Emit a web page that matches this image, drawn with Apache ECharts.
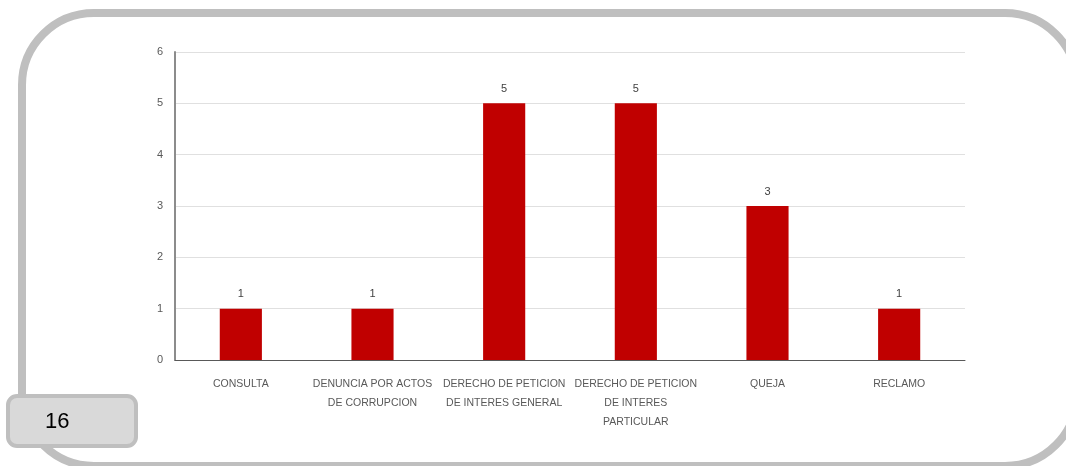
<!DOCTYPE html>
<html>
<head>
<meta charset="utf-8">
<script src="https://cdn.jsdelivr.net/npm/echarts@6/dist/echarts.min.js"></script>
<style>
html,body{margin:0;padding:0;background:#fff;}
#c{width:1066px;height:466px;}
</style>
</head>
<body>
<div id="c"></div>
<script>
const categories = ['CONSULTA','DENUNCIA POR ACTOS DE CORRUPCION','DERECHO DE PETICION DE INTERES GENERAL','DERECHO DE PETICION DE INTERES PARTICULAR','QUEJA','RECLAMO'];
const tickLabels = ['CONSULTA','DENUNCIA POR ACTOS\nDE CORRUPCION','DERECHO DE PETICION\nDE INTERES GENERAL','DERECHO DE PETICION\nDE INTERES\nPARTICULAR','QUEJA','RECLAMO'];
const values = [1,1,5,5,3,1];
const yTicks = [0,1,2,3,4,5,6];
const pageNumber = '16';

const chart = echarts.init(document.getElementById('c'));
const font = '"Liberation Sans Narrow", "Liberation Sans", sans-serif';
chart.setOption({
  animation:false,
  grid:{left:175,right:101,top:52,bottom:106},
  xAxis:{
    type:'category',
    data:categories,
    axisLine:{lineStyle:{color:'#595959',width:1}},
    axisTick:{show:false},
    axisLabel:{
      interval:0,margin:15,color:'#595959',fontSize:10.5,fontFamily:font,lineHeight:19,
      formatter:(v,i)=>tickLabels[i]
    }
  },
  yAxis:{
    type:'value',min:yTicks[0],max:yTicks[yTicks.length-1],interval:1,
    axisLine:{show:true,lineStyle:{color:'#8c8c8c',width:2}},
    axisTick:{show:false},
    splitLine:{lineStyle:{color:'#e0e0e0',width:1}},
    axisLabel:{color:'#595959',fontSize:11,fontFamily:font,margin:12}
  },
  series:[{
    type:'bar',data:values,barWidth:'32%',
    itemStyle:{color:'#c00000'},
    label:{show:true,position:'top',distance:9,color:'#404040',fontSize:11,fontFamily:font}
  }],
  graphic:[
    {type:'rect',z:-1,shape:{x:22,y:13,width:1055,height:453,r:72},
     style:{fill:'none',stroke:'#bfbfbf',lineWidth:8}},
    {type:'rect',z:10,shape:{x:8,y:396,width:128,height:50,r:9},
     style:{fill:'#d9d9d9',stroke:'#bfbfbf',lineWidth:4}},
    {type:'text',z:11,style:{x:45,y:422,text:pageNumber,fill:'#000',fontSize:22,fontFamily:'"Liberation Sans", Calibri, sans-serif',verticalAlign:'middle'}}
  ]
});
</script>
</body>
</html>
